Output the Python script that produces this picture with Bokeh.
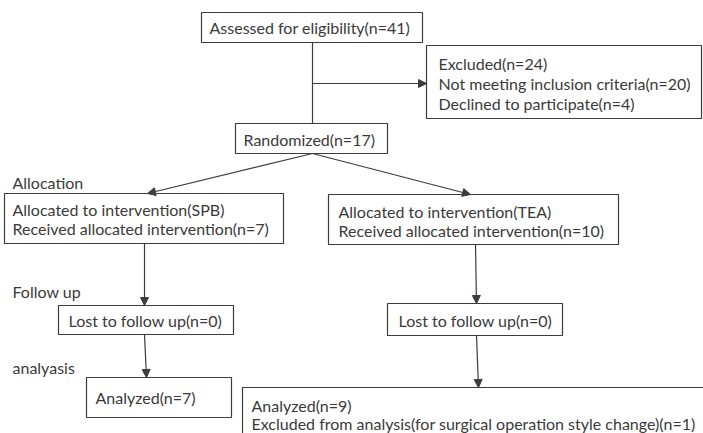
from bokeh.plotting import figure
from bokeh.models import Arrow, NormalHead, Range1d
from bokeh.core.properties import value
from bokeh.embed import file_html
from bokeh.resources import INLINE

# ---- data (counts) ----
n_assessed = 41
n_excluded = 24
n_not_meeting = 20
n_declined = 4
n_randomized = 17
n_spb = 7
n_tea = 10
n_lost_spb = 0
n_lost_tea = 0
n_analyzed_spb = 7
n_analyzed_tea = 9
n_excluded_analysis = 1

stage_labels = ["Allocation", "Follow up", "analyasis"]

box_lines = [
    [f"Assessed for eligibility(n={n_assessed})"],
    [f"Excluded(n={n_excluded})",
     f"Not meeting inclusion criteria(n={n_not_meeting})",
     f"Declined to participate(n={n_declined})"],
    [f"Randomized(n={n_randomized})"],
    ["Allocated to intervention(SPB)",
     f"Received allocated intervention(n={n_spb})"],
    ["Allocated to intervention(TEA)",
     f"Received allocated intervention(n={n_tea})"],
    [f"Lost to follow up(n={n_lost_spb})"],
    [f"Lost to follow up(n={n_lost_tea})"],
    [f"Analyzed(n={n_analyzed_spb})"],
    [f"Analyzed(n={n_analyzed_tea})",
     f"Excluded from analysis(for surgical operation style change)(n={n_excluded_analysis})"],
]

# ---- layout (pixel coordinates of the diagram) ----
box_left = [201, 426, 235, 4, 328, 58, 387, 86, 242]
box_top = [12, 45, 123, 193, 194, 305, 303, 377, 387]
box_right = [422, 701, 387, 283, 618, 233, 562, 231, 720]
box_bottom = [42, 118, 153, 243, 244, 334, 335, 417, 450]
text_x = [209, 438, 243, 12, 338, 68, 398, 95, 251]
text_y = [[27], [63, 83, 103], [139], [209, 228], [211, 230], [320], [320], [397], [405, 423]]

stage_x = [12, 12, 12]
stage_y = [182, 291, 367]

line_segs = [(312, 42, 312, 123)]
arrows = [
    (312, 83, 426, 83),
    (312, 153, 147, 193),
    (312, 153, 470, 194),
    (144, 243, 144, 305),
    (144, 334, 146, 377),
    (475, 244, 476, 303),
    (476, 335, 478, 387),
]

LINE = "#3c3c3c"
TEXT = "#3a3a3a"
FONT = value("Lato")
FSIZE = "16px"

p = figure(width=703, height=433, x_range=Range1d(0, 703), y_range=Range1d(433, 0),
           output_backend="svg", toolbar_location=None, min_border=0)
p.axis.visible = False
p.grid.visible = False
p.outline_line_color = None
p.background_fill_color = "white"
p.border_fill_color = "white"

for (x0, y0, x1, y1) in line_segs:
    p.segment(x0=[x0], y0=[y0], x1=[x1], y1=[y1], line_color=LINE, line_width=1.2)

for (x0, y0, x1, y1) in arrows:
    p.add_layout(Arrow(end=NormalHead(size=8, fill_color=LINE, line_color=LINE),
                       x_start=x0, y_start=y0, x_end=x1, y_end=y1,
                       line_color=LINE, line_width=1.2))

p.quad(left=box_left, right=box_right, top=box_top, bottom=box_bottom,
       fill_color="white", line_color=LINE, line_width=1.2)

tx, ty, tt = [], [], []
for lines, x, ys in zip(box_lines, text_x, text_y):
    for s, y in zip(lines, ys):
        tx.append(x)
        ty.append(y)
        tt.append(s)
p.text(x=tx, y=ty, text=tt, text_font=FONT, text_font_size=FSIZE,
       text_baseline="middle", text_align="left", text_color=TEXT)

p.text(x=stage_x, y=stage_y, text=stage_labels, text_font=FONT, text_font_size=FSIZE,
       text_baseline="middle", text_align="left", text_color=TEXT)

open("out.html", "w").write(file_html(p, INLINE))
